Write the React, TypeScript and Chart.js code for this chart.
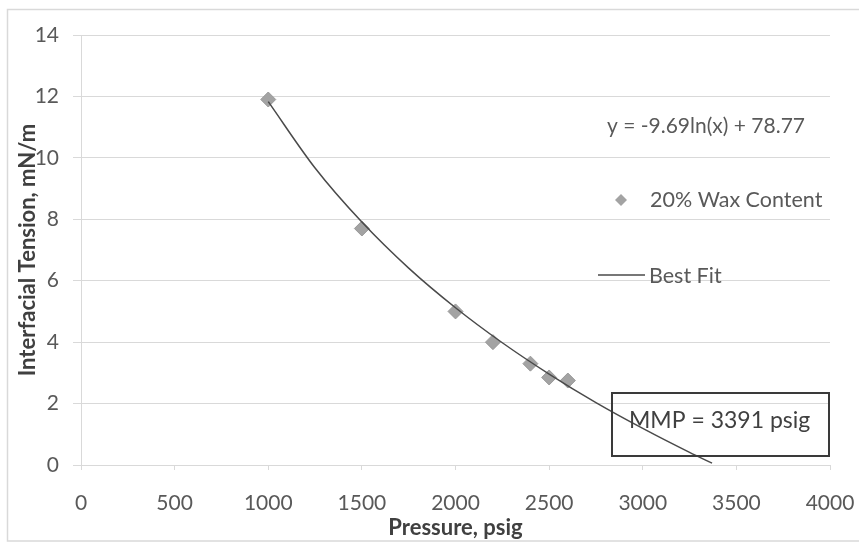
import React, { useEffect, useRef } from "react";
import { Chart, registerables } from "chart.js";

Chart.register(...registerables);

const pressure = [1000, 1500, 2000, 2200, 2400, 2500, 2600];
const ift = [11.9, 7.7, 5.0, 4.0, 3.3, 2.85, 2.75];
const fitPressure = [1000, 1250, 1500, 1750, 2000, 2250, 2500, 2750, 3000, 3250, 3370];
const fitIft = [11.83, 9.67, 7.91, 6.41, 5.12, 3.98, 2.96, 2.03, 1.19, 0.41, 0.06];
const equationLabel = "y = -9.69ln(x) + 78.77";
const seriesLabel = "20% Wax Content";
const fitLabel = "Best Fit";
const mmpLabel = "MMP = 3391 psig";
const xTitle = "Pressure, psig";
const yTitle = "Interfacial Tension, mN/m";

const FONT = "Lato, 'Liberation Sans', sans-serif";
const TICK = "#595959";
const GRID = "#d9d9d9";
const MARK = "#a3a3a3";
const LINE = "#4a4a4a";

const annotations = {
  id: "annotations",
  beforeDraw(chart: any) {
    const ctx = chart.ctx;
    ctx.save();
    ctx.strokeStyle = GRID;
    ctx.lineWidth = 1.5;
    ctx.strokeRect(7.5, 9.5, chart.width + 10, 531.5);
    ctx.restore();
  },
  afterDraw(chart: any) {
    const ctx = chart.ctx;
    ctx.save();
    ctx.textBaseline = "middle";
    ctx.textAlign = "left";
    ctx.fillStyle = TICK;
    ctx.font = `21px ${FONT}`;
    ctx.fillText(equationLabel, 607, 126);

    // legend: diamond
    ctx.fillStyle = MARK;
    ctx.beginPath();
    ctx.moveTo(621, 194);
    ctx.lineTo(627, 200);
    ctx.lineTo(621, 206);
    ctx.lineTo(615, 200);
    ctx.closePath();
    ctx.fill();
    ctx.fillStyle = TICK;
    ctx.font = `21.5px ${FONT}`;
    ctx.fillText(seriesLabel, 650, 200);

    // legend: best fit
    ctx.strokeStyle = LINE;
    ctx.lineWidth = 1.5;
    ctx.beginPath();
    ctx.moveTo(598, 275);
    ctx.lineTo(645, 275);
    ctx.stroke();
    ctx.fillStyle = TICK;
    ctx.fillText(fitLabel, 649, 276);

    // MMP box
    ctx.strokeStyle = "#3a3a3a";
    ctx.lineWidth = 2;
    ctx.strokeRect(612, 393, 217, 63);
    ctx.fillStyle = "#404040";
    ctx.font = `23px ${FONT}`;
    ctx.fillText(mmpLabel, 629, 421);
    ctx.restore();
  },
};

export default function App() {
  const ref = useRef<HTMLCanvasElement>(null);
  useEffect(() => {
    document.body.style.margin = "0";
    const canvas = ref.current!;
    const chart = new Chart(canvas, {
      type: "scatter",
      data: {
        datasets: [
          {
            label: fitLabel,
            data: fitPressure.map((x, i) => ({ x, y: fitIft[i] })),
            showLine: true,
            borderColor: LINE,
            borderWidth: 1.5,
            pointRadius: 0,
            cubicInterpolationMode: "monotone",
            order: 0,
          } as any,
          {
            label: seriesLabel,
            data: pressure.map((x, i) => ({ x, y: ift[i] })),
            pointStyle: "rectRot",
            pointRadius: 7.5,
            backgroundColor: MARK,
            borderColor: "#999999",
            borderWidth: 1,
            order: 1,
          },
        ],
      },
      options: {
        animation: false,
        responsive: false,
        layout: { padding: { top: 35, right: 29, left: 0, bottom: 0 } },
        plugins: { legend: { display: false }, tooltip: { enabled: false } },
        scales: {
          x: {
            type: "linear",
            min: 0,
            max: 4000,
            ticks: {
              stepSize: 500,
              color: TICK,
              font: { family: FONT, size: 21 },
              padding: 21,
              callback: (v: any) => String(v),
            },
            grid: { drawOnChartArea: false, drawTicks: true, tickLength: 5, color: GRID },
            border: { color: GRID },
            title: {
              display: true,
              text: xTitle,
              color: "#404040",
              font: { family: FONT, size: 22, weight: "bold" },
              padding: { top: 0, bottom: 3 },
            },
            afterFit(scale: any) {
              scale.height = 79;
              scale.paddingLeft = 0;
              scale.paddingRight = 0;
            },
          },
          y: {
            min: 0,
            max: 14,
            ticks: { stepSize: 2, color: TICK, font: { family: FONT, size: 21 }, padding: 14 },
            grid: { color: GRID, tickLength: 8 },
            border: { color: GRID },
            title: {
              display: true,
              text: yTitle,
              color: "#404040",
              font: { family: FONT, size: 22, weight: "bold" },
              padding: { top: 15, bottom: 0 },
            },
            afterFit(scale: any) {
              scale.width = 81;
              scale.paddingTop = 0;
              scale.paddingBottom = 0;
            },
          },
        },
      },
      plugins: [annotations],
    });
    return () => chart.destroy();
  }, []);
  return <canvas ref={ref} width={859} height={544} style={{ display: "block" }} />;
}
